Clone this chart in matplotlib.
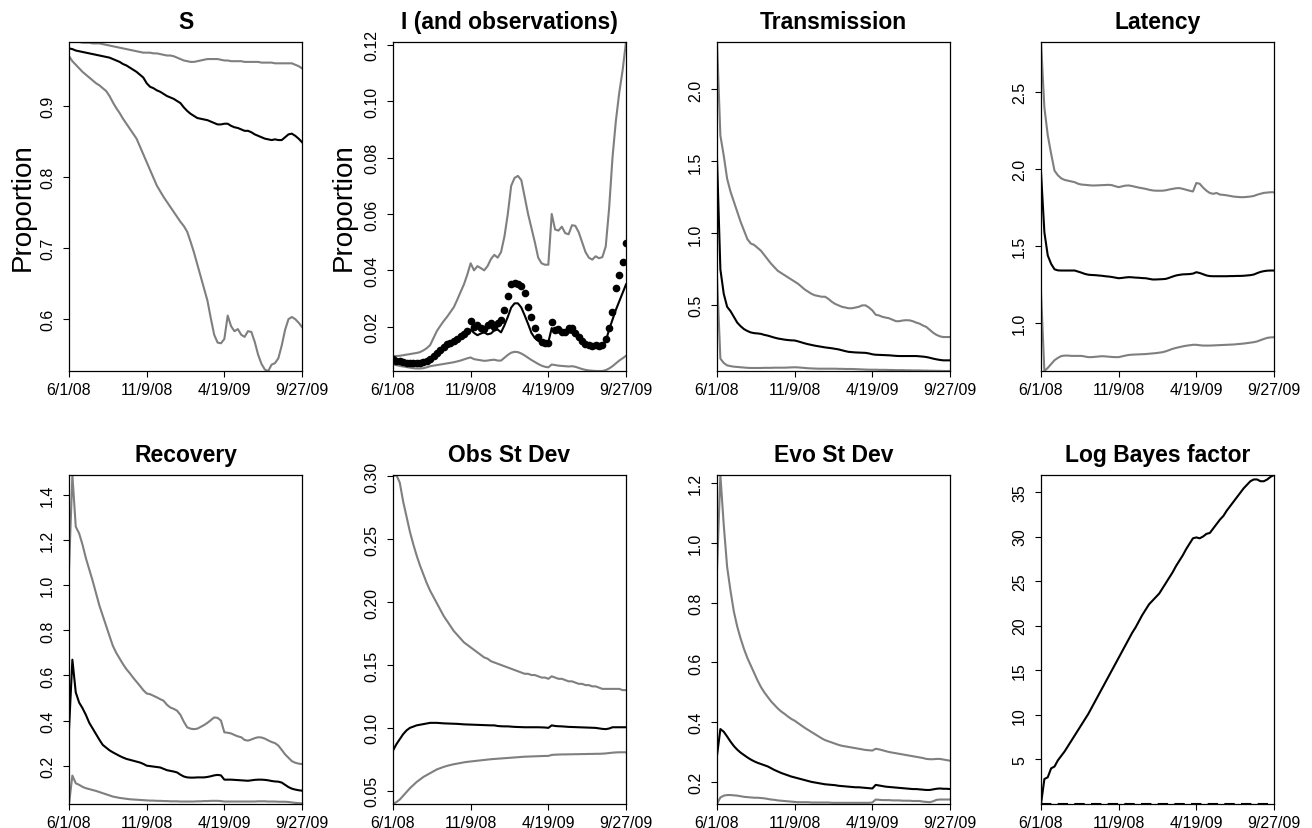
import numpy as np
import matplotlib.pyplot as plt

plt.rcParams['font.family'] = ['Liberation Sans', 'DejaVu Sans']

# weekly time points, 6/1/08 .. 9/27/09
weeks = np.arange(70)
date_ticks = [0, 23, 46, 69]
date_labels = ['6/1/08', '11/9/08', '4/19/09', '9/27/09']

# ---- S ----
s_med = [0.981, 0.980, 0.978, 0.977, 0.976, 0.975, 0.974, 0.973, 0.972, 0.971,
         0.970, 0.969, 0.968, 0.966, 0.964, 0.962, 0.959, 0.957, 0.954, 0.951,
         0.948, 0.944, 0.940, 0.932, 0.927, 0.925, 0.922, 0.920, 0.917, 0.914,
         0.912, 0.910, 0.907, 0.904, 0.898, 0.893, 0.889, 0.886, 0.883, 0.882,
         0.881, 0.880, 0.878, 0.876, 0.874, 0.874, 0.875, 0.875, 0.872, 0.870,
         0.869, 0.867, 0.865, 0.865, 0.863, 0.860, 0.858, 0.856, 0.854, 0.853,
         0.852, 0.853, 0.852, 0.852, 0.856, 0.860, 0.861, 0.858, 0.854, 0.849]
s_hi = [0.990, 0.990, 0.990, 0.990, 0.989, 0.989, 0.989, 0.988, 0.988, 0.988,
        0.987, 0.986, 0.985, 0.984, 0.983, 0.982, 0.981, 0.980, 0.979, 0.978,
        0.977, 0.976, 0.975, 0.975, 0.975, 0.974, 0.974, 0.973, 0.972, 0.971,
        0.971, 0.970, 0.968, 0.966, 0.964, 0.963, 0.962, 0.962, 0.963, 0.964,
        0.965, 0.966, 0.966, 0.966, 0.966, 0.965, 0.964, 0.964, 0.963, 0.963,
        0.963, 0.963, 0.962, 0.962, 0.962, 0.962, 0.962, 0.961, 0.961, 0.961,
        0.961, 0.960, 0.960, 0.960, 0.960, 0.960, 0.960, 0.958, 0.956, 0.953]
s_lo = [0.970, 0.963, 0.958, 0.953, 0.948, 0.944, 0.940, 0.936, 0.932, 0.929,
        0.925, 0.921, 0.914, 0.905, 0.897, 0.890, 0.882, 0.875, 0.868, 0.861,
        0.854, 0.843, 0.832, 0.821, 0.810, 0.799, 0.788, 0.780, 0.772, 0.765,
        0.758, 0.751, 0.744, 0.737, 0.731, 0.723, 0.709, 0.694, 0.677, 0.660,
        0.643, 0.626, 0.601, 0.578, 0.567, 0.566, 0.572, 0.605, 0.590, 0.583,
        0.586, 0.578, 0.575, 0.583, 0.582, 0.568, 0.550, 0.537, 0.529, 0.527,
        0.536, 0.538, 0.545, 0.563, 0.585, 0.600, 0.603, 0.600, 0.595, 0.589]

# ---- I (and observations) ----
i_med = [0.0078, 0.0077, 0.0075, 0.0073, 0.0071, 0.0069, 0.0068, 0.0067, 0.0068, 0.0072,
         0.0078, 0.0085, 0.0095, 0.0105, 0.0115, 0.0123, 0.0131, 0.0138, 0.0146, 0.0154,
         0.0162, 0.0172, 0.0182, 0.0190, 0.0178, 0.0170, 0.0176, 0.0180, 0.0173, 0.0176,
         0.0187, 0.0190, 0.0180, 0.0205, 0.0235, 0.0268, 0.0283, 0.0283, 0.0268, 0.0240,
         0.0210, 0.0178, 0.0160, 0.0150, 0.0143, 0.0142, 0.0145, 0.0195, 0.0183, 0.0180,
         0.0176, 0.0178, 0.0180, 0.0178, 0.0170, 0.0155, 0.0143, 0.0137, 0.0133, 0.0131,
         0.0130, 0.0130, 0.0132, 0.0148, 0.0190, 0.0225, 0.0260, 0.0290, 0.0320, 0.0350]
i_hi = [0.0095, 0.0096, 0.0097, 0.0099, 0.0101, 0.0103, 0.0105, 0.0107, 0.0110, 0.0116,
        0.0124, 0.0135, 0.0160, 0.0185, 0.0203, 0.0220, 0.0235, 0.0252, 0.0269, 0.0295,
        0.0323, 0.0350, 0.0385, 0.0425, 0.0400, 0.0415, 0.0408, 0.0400, 0.0415, 0.0440,
        0.0455, 0.0445, 0.0465, 0.0520, 0.0600, 0.0700, 0.0728, 0.0735, 0.0720, 0.0660,
        0.0600, 0.0550, 0.0500, 0.0445, 0.0425, 0.0420, 0.0420, 0.0600, 0.0545, 0.0541,
        0.0555, 0.0532, 0.0528, 0.0560, 0.0558, 0.0535, 0.0500, 0.0465, 0.0445, 0.0438,
        0.0450, 0.0443, 0.0447, 0.0485, 0.0620, 0.0800, 0.0930, 0.1030, 0.1110, 0.1210]
i_lo = [0.0067, 0.0064, 0.0061, 0.0059, 0.0057, 0.0055, 0.0053, 0.0052, 0.0052, 0.0053,
        0.0056, 0.0060, 0.0062, 0.0064, 0.0066, 0.0068, 0.0070, 0.0072, 0.0074, 0.0077,
        0.0080, 0.0084, 0.0088, 0.0091, 0.0085, 0.0083, 0.0081, 0.0079, 0.0080, 0.0082,
        0.0083, 0.0080, 0.0080, 0.0090, 0.0100, 0.0108, 0.0111, 0.0110, 0.0105, 0.0098,
        0.0090, 0.0082, 0.0075, 0.0068, 0.0062, 0.0058, 0.0056, 0.0066, 0.0064, 0.0062,
        0.0061, 0.0060, 0.0059, 0.0060, 0.0058, 0.0054, 0.0050, 0.0047, 0.0045, 0.0044,
        0.0043, 0.0043, 0.0043, 0.0046, 0.0052, 0.0060, 0.0070, 0.0080, 0.0088, 0.0097]
i_obs = [0.0084, 0.0080, 0.0077, 0.0074, 0.0073, 0.0072, 0.0071, 0.0072, 0.0073, 0.0075,
         0.0079, 0.0087, 0.0096, 0.0108, 0.0119, 0.0128, 0.0137, 0.0143, 0.0149, 0.0158,
         0.0167, 0.0176, 0.0186, 0.0222, 0.0198, 0.0205, 0.0195, 0.0192, 0.0205, 0.0212,
         0.0200, 0.0212, 0.0223, 0.0259, 0.0310, 0.0350, 0.0355, 0.0353, 0.0345, 0.0320,
         0.0270, 0.0235, 0.0195, 0.0165, 0.0147, 0.0143, 0.0143, 0.0218, 0.0188, 0.0192,
         0.0182, 0.0182, 0.0194, 0.0194, 0.0178, 0.0165, 0.0150, 0.0140, 0.0134, 0.0132,
         0.0134, 0.0133, 0.0135, 0.0155, 0.0196, 0.0252, 0.0338, 0.0382, 0.0428, 0.0496]

# ---- Transmission ----
tr_med = [1.52, 0.75, 0.58, 0.49, 0.46, 0.42, 0.38, 0.355, 0.335, 0.322,
          0.312, 0.307, 0.305, 0.302, 0.295, 0.290, 0.283, 0.276, 0.270, 0.266,
          0.262, 0.259, 0.257, 0.256, 0.250, 0.243, 0.236, 0.230, 0.225, 0.220,
          0.216, 0.212, 0.208, 0.205, 0.202, 0.198, 0.194, 0.188, 0.182, 0.177,
          0.175, 0.173, 0.172, 0.171, 0.170, 0.166, 0.160, 0.157, 0.156, 0.155,
          0.154, 0.153, 0.151, 0.149, 0.148, 0.148, 0.148, 0.148, 0.148, 0.148,
          0.146, 0.144, 0.141, 0.136, 0.130, 0.125, 0.121, 0.118, 0.118, 0.118]
tr_hi = [2.33, 1.68, 1.54, 1.38, 1.29, 1.22, 1.15, 1.08, 1.02, 0.96,
         0.93, 0.92, 0.90, 0.88, 0.85, 0.82, 0.79, 0.765, 0.74, 0.725,
         0.71, 0.695, 0.68, 0.665, 0.65, 0.63, 0.61, 0.595, 0.58, 0.57,
         0.565, 0.56, 0.56, 0.545, 0.525, 0.51, 0.50, 0.49, 0.485, 0.48,
         0.48, 0.485, 0.49, 0.50, 0.50, 0.485, 0.465, 0.435, 0.43, 0.42,
         0.415, 0.41, 0.40, 0.39, 0.39, 0.395, 0.397, 0.396, 0.39, 0.38,
         0.373, 0.36, 0.35, 0.33, 0.31, 0.295, 0.285, 0.28, 0.28, 0.28]
tr_lo = [0.70, 0.13, 0.10, 0.083, 0.078, 0.074, 0.072, 0.070, 0.068, 0.066,
         0.065, 0.065, 0.065, 0.065, 0.066, 0.066, 0.066, 0.067, 0.067, 0.067,
         0.067, 0.068, 0.069, 0.070, 0.069, 0.067, 0.065, 0.063, 0.062, 0.061,
         0.060, 0.060, 0.060, 0.060, 0.060, 0.060, 0.059, 0.059, 0.058, 0.058,
         0.058, 0.057, 0.056, 0.055, 0.054, 0.053, 0.053, 0.053, 0.052, 0.052,
         0.052, 0.051, 0.051, 0.050, 0.050, 0.050, 0.049, 0.049, 0.048, 0.048,
         0.048, 0.047, 0.047, 0.046, 0.046, 0.045, 0.045, 0.044, 0.044, 0.044]

# ---- Latency ----
la_med = [1.98, 1.59, 1.44, 1.385, 1.35, 1.343, 1.342, 1.342, 1.342, 1.342,
          1.342, 1.335, 1.328, 1.320, 1.315, 1.313, 1.312, 1.310, 1.308, 1.305,
          1.303, 1.300, 1.296, 1.292, 1.294, 1.297, 1.299, 1.298, 1.296, 1.295,
          1.293, 1.292, 1.288, 1.284, 1.284, 1.285, 1.286, 1.288, 1.295, 1.303,
          1.310, 1.314, 1.317, 1.318, 1.319, 1.322, 1.331, 1.326, 1.318, 1.310,
          1.306, 1.305, 1.305, 1.305, 1.305, 1.305, 1.306, 1.306, 1.307, 1.307,
          1.308, 1.310, 1.312, 1.316, 1.325, 1.333, 1.338, 1.341, 1.342, 1.342]
la_hi = [2.825, 2.40, 2.22, 2.10, 1.99, 1.96, 1.94, 1.93, 1.925, 1.92,
         1.915, 1.905, 1.90, 1.898, 1.896, 1.894, 1.894, 1.895, 1.896, 1.897,
         1.898, 1.896, 1.889, 1.883, 1.888, 1.893, 1.894, 1.890, 1.885, 1.880,
         1.876, 1.872, 1.866, 1.862, 1.860, 1.860, 1.860, 1.863, 1.868, 1.872,
         1.876, 1.877, 1.872, 1.866, 1.860, 1.855, 1.910, 1.905, 1.880, 1.860,
         1.845, 1.840, 1.845, 1.835, 1.833, 1.830, 1.826, 1.822, 1.820, 1.818,
         1.818, 1.820, 1.822, 1.826, 1.834, 1.840, 1.846, 1.848, 1.850, 1.850]
la_lo = [1.20, 0.69, 0.71, 0.735, 0.76, 0.775, 0.787, 0.790, 0.790, 0.788,
         0.788, 0.788, 0.788, 0.784, 0.780, 0.780, 0.782, 0.784, 0.786, 0.785,
         0.783, 0.781, 0.780, 0.780, 0.785, 0.790, 0.794, 0.796, 0.797, 0.798,
         0.799, 0.800, 0.802, 0.804, 0.806, 0.809, 0.812, 0.818, 0.826, 0.834,
         0.840, 0.845, 0.850, 0.854, 0.857, 0.860, 0.860, 0.857, 0.855, 0.855,
         0.855, 0.856, 0.857, 0.858, 0.859, 0.860, 0.861, 0.862, 0.864, 0.866,
         0.868, 0.871, 0.874, 0.877, 0.882, 0.890, 0.898, 0.905, 0.908, 0.909]

# ---- Recovery ----
re_med = [0.36, 0.67, 0.525, 0.48, 0.455, 0.425, 0.39, 0.365, 0.34, 0.315,
          0.292, 0.280, 0.268, 0.259, 0.251, 0.243, 0.236, 0.230, 0.226, 0.222,
          0.218, 0.214, 0.208, 0.200, 0.198, 0.196, 0.194, 0.192, 0.186, 0.180,
          0.177, 0.174, 0.170, 0.160, 0.152, 0.148, 0.147, 0.147, 0.148, 0.148,
          0.148, 0.150, 0.153, 0.157, 0.159, 0.157, 0.138, 0.138, 0.138, 0.137,
          0.136, 0.135, 0.134, 0.133, 0.135, 0.137, 0.138, 0.138, 0.137, 0.135,
          0.132, 0.130, 0.129, 0.125, 0.115, 0.105, 0.098, 0.094, 0.091, 0.089]
re_hi = [1.07, 1.489, 1.26, 1.23, 1.18, 1.12, 1.07, 1.02, 0.965, 0.91,
         0.865, 0.82, 0.775, 0.731, 0.70, 0.675, 0.65, 0.628, 0.61, 0.59,
         0.572, 0.554, 0.535, 0.520, 0.517, 0.510, 0.503, 0.495, 0.488, 0.470,
         0.458, 0.452, 0.444, 0.425, 0.395, 0.370, 0.364, 0.362, 0.364, 0.372,
         0.380, 0.390, 0.402, 0.414, 0.412, 0.400, 0.348, 0.346, 0.343, 0.336,
         0.330, 0.326, 0.314, 0.311, 0.316, 0.322, 0.326, 0.325, 0.320, 0.312,
         0.305, 0.300, 0.289, 0.270, 0.250, 0.235, 0.220, 0.213, 0.209, 0.207]
re_lo = [0.030, 0.156, 0.122, 0.115, 0.106, 0.100, 0.096, 0.092, 0.088, 0.083,
         0.078, 0.073, 0.068, 0.063, 0.060, 0.057, 0.055, 0.053, 0.051, 0.050,
         0.049, 0.048, 0.047, 0.046, 0.045, 0.045, 0.044, 0.044, 0.043, 0.043,
         0.042, 0.042, 0.042, 0.041, 0.041, 0.041, 0.041, 0.041, 0.042, 0.042,
         0.043, 0.043, 0.044, 0.044, 0.044, 0.043, 0.041, 0.041, 0.041, 0.041,
         0.041, 0.041, 0.041, 0.041, 0.041, 0.041, 0.042, 0.042, 0.042, 0.041,
         0.041, 0.041, 0.040, 0.040, 0.040, 0.039, 0.037, 0.035, 0.034, 0.033]

# ---- Obs St Dev ----
ob_med = [0.082, 0.087, 0.091, 0.095, 0.098, 0.100, 0.101, 0.102, 0.1025, 0.103,
          0.1035, 0.104, 0.104, 0.104, 0.1038, 0.1036, 0.1035, 0.1034, 0.1033, 0.1032,
          0.1030, 0.1028, 0.1027, 0.1026, 0.1025, 0.1024, 0.1023, 0.1022, 0.1021, 0.1020,
          0.1020, 0.1015, 0.1013, 0.1012, 0.1012, 0.1010, 0.1008, 0.1007, 0.1006, 0.1005,
          0.1005, 0.1005, 0.1005, 0.1005, 0.1004, 0.1003, 0.1000, 0.1020, 0.1015, 0.1013,
          0.1012, 0.1010, 0.1008, 0.1007, 0.1006, 0.1005, 0.1004, 0.1003, 0.1002, 0.1001,
          0.1000, 0.0996, 0.0992, 0.0990, 0.0995, 0.1005, 0.1005, 0.1005, 0.1005, 0.1005]
ob_hi = [0.300, 0.301, 0.295, 0.280, 0.268, 0.256, 0.246, 0.237, 0.229, 0.222,
         0.215, 0.209, 0.204, 0.199, 0.194, 0.189, 0.185, 0.181, 0.177, 0.174,
         0.171, 0.168, 0.166, 0.164, 0.162, 0.160, 0.158, 0.156, 0.155, 0.153,
         0.152, 0.151, 0.150, 0.149, 0.148, 0.147, 0.146, 0.145, 0.144, 0.143,
         0.143, 0.142, 0.142, 0.141, 0.140, 0.140, 0.139, 0.141, 0.140, 0.139,
         0.139, 0.138, 0.137, 0.137, 0.136, 0.135, 0.135, 0.134, 0.134, 0.133,
         0.133, 0.132, 0.131, 0.131, 0.131, 0.131, 0.131, 0.131, 0.130, 0.130]
ob_lo = [0.0395, 0.041, 0.043, 0.046, 0.049, 0.052, 0.0545, 0.057, 0.059, 0.061,
         0.0625, 0.064, 0.0655, 0.067, 0.068, 0.069, 0.0698, 0.0705, 0.0711, 0.0716,
         0.0721, 0.0726, 0.0730, 0.0733, 0.0736, 0.0739, 0.0742, 0.0745, 0.0748, 0.0751,
         0.0753, 0.0755, 0.0757, 0.0759, 0.0761, 0.0763, 0.0765, 0.0767, 0.0769, 0.0771,
         0.0772, 0.0773, 0.0774, 0.0775, 0.0776, 0.0777, 0.0777, 0.0785, 0.0787, 0.0788,
         0.0789, 0.0789, 0.0790, 0.0790, 0.0791, 0.0791, 0.0792, 0.0792, 0.0793, 0.0793,
         0.0794, 0.0794, 0.0795, 0.0797, 0.0800, 0.0803, 0.0805, 0.0806, 0.0806, 0.0806]

# ---- Evo St Dev ----
ev_med = [0.288, 0.377, 0.368, 0.352, 0.335, 0.320, 0.308, 0.298, 0.290, 0.282,
          0.275, 0.269, 0.264, 0.260, 0.256, 0.252, 0.246, 0.240, 0.235, 0.230,
          0.226, 0.222, 0.218, 0.215, 0.212, 0.209, 0.206, 0.203, 0.200, 0.198,
          0.196, 0.194, 0.192, 0.191, 0.190, 0.189, 0.187, 0.186, 0.185, 0.184,
          0.183, 0.182, 0.182, 0.181, 0.180, 0.179, 0.178, 0.190, 0.188, 0.186,
          0.184, 0.183, 0.182, 0.181, 0.180, 0.179, 0.178, 0.177, 0.176, 0.176,
          0.175, 0.174, 0.173, 0.173, 0.175, 0.177, 0.178, 0.177, 0.177, 0.176]
ev_hi = [0.91, 1.228, 1.06, 0.92, 0.84, 0.77, 0.72, 0.68, 0.645, 0.615,
         0.59, 0.565, 0.54, 0.518, 0.50, 0.485, 0.47, 0.458, 0.446, 0.436,
         0.428, 0.419, 0.411, 0.405, 0.397, 0.389, 0.381, 0.374, 0.367, 0.360,
         0.353, 0.346, 0.340, 0.336, 0.332, 0.328, 0.324, 0.321, 0.319, 0.317,
         0.315, 0.313, 0.311, 0.309, 0.307, 0.306, 0.305, 0.311, 0.309, 0.306,
         0.303, 0.300, 0.298, 0.296, 0.294, 0.292, 0.290, 0.288, 0.286, 0.284,
         0.282, 0.280, 0.277, 0.276, 0.276, 0.277, 0.277, 0.275, 0.273, 0.271]
ev_lo = [0.126, 0.148, 0.154, 0.156, 0.156, 0.155, 0.154, 0.152, 0.150, 0.149,
         0.148, 0.147, 0.147, 0.146, 0.145, 0.143, 0.141, 0.140, 0.138, 0.137,
         0.136, 0.135, 0.134, 0.133, 0.132, 0.132, 0.132, 0.132, 0.131, 0.131,
         0.131, 0.131, 0.131, 0.131, 0.130, 0.130, 0.130, 0.130, 0.130, 0.130,
         0.130, 0.130, 0.130, 0.130, 0.130, 0.130, 0.131, 0.141, 0.140, 0.139,
         0.139, 0.139, 0.138, 0.138, 0.138, 0.137, 0.137, 0.137, 0.136, 0.136,
         0.136, 0.134, 0.133, 0.132, 0.135, 0.140, 0.141, 0.141, 0.141, 0.141]

# ---- Log Bayes factor ----
lbf = [0.0, 2.8, 3.0, 4.0, 4.2, 4.9, 5.4, 5.9, 6.5, 7.1,
       7.7, 8.3, 8.9, 9.5, 10.1, 10.8, 11.5, 12.2, 12.9, 13.6,
       14.3, 15.0, 15.7, 16.4, 17.1, 17.8, 18.5, 19.2, 19.8, 20.5,
       21.2, 21.8, 22.4, 22.8, 23.2, 23.6, 24.2, 24.8, 25.4, 26.0,
       26.7, 27.3, 27.9, 28.6, 29.2, 29.8, 29.9, 29.8, 30.0, 30.3,
       30.4, 30.9, 31.4, 31.9, 32.3, 32.9, 33.4, 33.9, 34.4, 34.9,
       35.4, 35.8, 36.2, 36.4, 36.4, 36.2, 36.2, 36.4, 36.7, 36.9]

panels = [
    ('S', s_med, s_lo, s_hi, [0.6, 0.7, 0.8, 0.9], '%.1f', True),
    ('I (and observations)', i_med, i_lo, i_hi, [0.02, 0.04, 0.06, 0.08, 0.10, 0.12], '%.2f', True),
    ('Transmission', tr_med, tr_lo, tr_hi, [0.5, 1.0, 1.5, 2.0], '%.1f', False),
    ('Latency', la_med, la_lo, la_hi, [1.0, 1.5, 2.0, 2.5], '%.1f', False),
    ('Recovery', re_med, re_lo, re_hi, [0.2, 0.4, 0.6, 0.8, 1.0, 1.2, 1.4], '%.1f', False),
    ('Obs St Dev', ob_med, ob_lo, ob_hi, [0.05, 0.10, 0.15, 0.20, 0.25, 0.30], '%.2f', False),
    ('Evo St Dev', ev_med, ev_lo, ev_hi, [0.2, 0.4, 0.6, 0.8, 1.0, 1.2], '%.1f', False),
    ('Log Bayes factor', lbf, None, None, [5, 10, 15, 20, 25, 30, 35], '%d', False),
]

W, H = 1312, 829
fig = plt.figure(figsize=(W / 100, H / 100), dpi=100)
lefts = [69, 393, 717, 1041]
tops = [43, 476]
aw, ah = 233, 329
gray = '#7f7f7f'

for k, (title, med, lo, hi, yt, fmt, proportion) in enumerate(panels):
    l = lefts[k % 4]
    t = tops[k // 4]
    ax = fig.add_axes([l / W, 1 - (t + ah) / H, aw / W, ah / H])
    allv = list(med)
    if lo is not None:
        ax.plot(weeks, lo, color=gray, lw=1.5)
        ax.plot(weeks, hi, color=gray, lw=1.5)
        allv += list(lo) + list(hi)
    ax.plot(weeks, med, color='black', lw=1.5)
    if title.startswith('I'):
        ax.plot(weeks, i_obs, 'o', color='black', ms=4.5)
        allv += i_obs
    if title == 'Log Bayes factor':
        ax.axhline(0, color='black', lw=1.5, dashes=(5, 3))
    ax.set_xlim(0, 69)
    ax.set_ylim(min(allv), max(allv))
    ax.set_xticks(date_ticks)
    ax.set_xticklabels(date_labels)
    ax.set_yticks(yt)
    ax.set_yticklabels([fmt % v for v in yt], rotation=90, va='center')
    ax.tick_params(axis='x', direction='out', length=4, width=0.8, pad=4, labelsize=11.5)
    ax.tick_params(axis='y', direction='out', length=4, width=0.8, pad=6, labelsize=11.5)
    for sp in ax.spines.values():
        sp.set_linewidth(0.9)
    ax.set_title(title, fontweight='bold', fontsize=16.5, pad=10.3)
    if proportion:
        ax.set_ylabel('Proportion', fontsize=20)
        ax.yaxis.label.set_verticalalignment('center')
        ax.yaxis.set_label_coords(-0.2 if k == 0 else -0.21, 0.5)

fig.savefig('out.png', dpi=100)
